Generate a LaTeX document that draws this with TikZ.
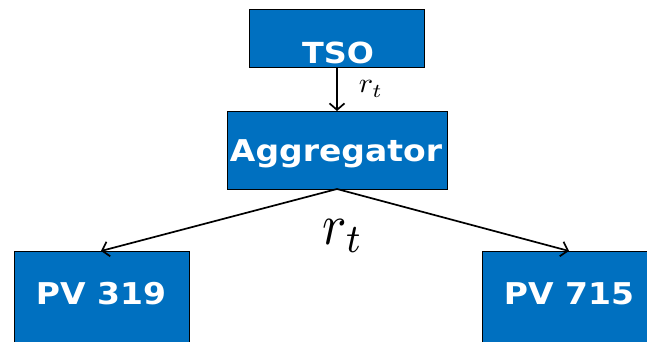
\documentclass[tikz,border=0pt]{standalone}
\usepackage{fontspec}
\newfontfamily\boxfont{DejaVu Sans}[BoldFont={DejaVu Sans Bold}]
\usetikzlibrary{arrows.meta}
\definecolor{boxblue}{HTML}{0070C0}
\tikzset{
  bluebox/.style={draw=black, line width=0.9pt, fill=boxblue, inner sep=0pt},
  boxtext/.style={text=white, inner sep=0pt, font=\boxfont\bfseries\fontsize{30}{30}\selectfont},
  flow/.style={draw=black, line width=1.7pt, -{Straight Barb[length=6.5pt,width=15pt,line width=1.7pt]}},
}
\begin{document}
\begin{tikzpicture}[x=1pt,y=-1pt]
\useasboundingbox (0,0) rectangle (647,342);
\clip (0,0) rectangle (647,342);
% boxes
\node[bluebox, minimum width=175pt, minimum height=58pt] (tso) at (336.5,38) {};
\node[bluebox, minimum width=220pt, minimum height=78pt] (agg) at (337,150) {};
\node[bluebox, minimum width=175pt, minimum height=110pt] (pva) at (101.5,306) {};
\node[bluebox, minimum width=175pt, minimum height=110pt] (pvb) at (569.5,306) {};
% texts
\node[boxtext, font=\boxfont\bfseries\fontsize{29}{29}\selectfont] (tsot) at (338,52.5) {\scalebox{1.1}[1]{TSO}};
\node[boxtext] (aggt) at (336,154) {\scalebox{1.1}[1]{Aggregator}};
\node[boxtext] (pvat) at (101,294) {\scalebox{1.1}[1]{PV 319}};
\node[boxtext] (pvbt) at (569,294) {\scalebox{1.1}[1]{PV 715}};
% connectors
\coordinate (tsob) at (337,67);
\coordinate (aggtop) at (337,111);
\coordinate (aggb) at (337,189);
\coordinate (pvatop) at (101,251);
\coordinate (pvbtop) at (569,251);
\draw[flow] (tsob) -- (aggtop);
\draw[flow] (aggb) -- (pvatop);
\draw[flow] (aggb) -- (pvbtop);
% labels
\node[inner sep=0pt] (lab1) at (371,89) {\scalebox{3}[2.8]{$r_t$}};
\node[inner sep=0pt] (lab2) at (343,236) {\scalebox{5.1}[5.8]{$r_t$}};
\end{tikzpicture}
\end{document}
